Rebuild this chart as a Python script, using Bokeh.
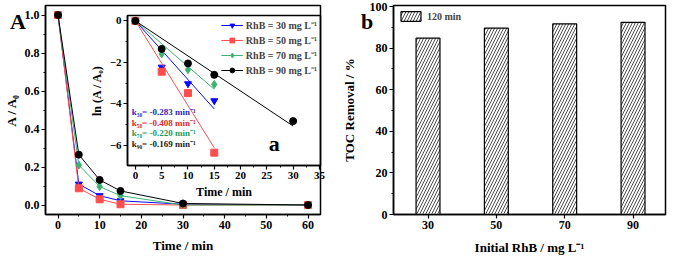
from bokeh.plotting import figure
from bokeh.layouts import row
from bokeh.models import (Range1d, FixedTicker, Label, Legend, LegendItem,
                          ColumnDataSource, PrintfTickFormatter, Div)
from bokeh.embed import file_html
from bokeh.resources import INLINE

# ---------------- data ----------------
time_main = [0, 5, 10, 15, 30, 60]
a30 = [1.0, 0.110, 0.049, 0.022, 0.004, 0.0]
a50 = [1.0, 0.088, 0.030, 0.004, 0.0, 0.0]
a70 = [1.0, 0.210, 0.097, 0.049, 0.0, 0.0]
a90 = [1.0, 0.265, 0.132, 0.074, 0.008, 0.0]

time_ln = [0, 5, 10, 15]
time_ln90 = [0, 5, 10, 15, 30]
ln30 = [0, -2.23, -3.03, -3.85]
ln50 = [0, -2.45, -3.48, -6.35]
ln70 = [0, -1.59, -2.35, -3.06]
ln90 = [0, -1.35, -2.05, -2.60, -4.83]

k_vals = [-0.283, -0.408, -0.220, -0.169]
k_names = ["30", "50", "70", "90"]
fit_end = [15, 15, 15, 30]
series_labels = ["RhB = 30 mg L\u207b\u00b9", "RhB = 50 mg L\u207b\u00b9",
                 "RhB = 70 mg L\u207b\u00b9", "RhB = 90 mg L\u207b\u00b9"]

rhb = [30, 50, 70, 90]
toc = [84.8, 89.6, 91.7, 92.4]

colors = ["#0a0aff", "#ff4d4d", "#3cb371", "#000000"]
text_colors = ["#2a2ab8", "#e02a2a", "#1e9a5a", "#222222"]
markers = ["inverted_triangle", "square", "diamond", "circle"]

FONT = "Liberation Serif"


def style_axes(p, tick_size="12px", label_size="13px"):
    for ax in (p.xaxis[0], p.yaxis[0]):
        ax.major_label_text_font = FONT
        ax.major_label_text_font_style = "bold"
        ax.major_label_text_font_size = tick_size
        ax.major_label_text_color = "black"
        ax.axis_label_text_font = FONT
        ax.axis_label_text_font_style = "bold"
        ax.axis_label_text_font_size = label_size
        ax.axis_label_text_color = "black"
        ax.major_tick_in = 0
        ax.major_tick_out = 4
        ax.minor_tick_in = 0
        ax.minor_tick_out = 2
        ax.axis_line_width = 1.5
        ax.major_tick_line_width = 1.2
        ax.minor_tick_line_width = 1
        ax.major_label_standoff = 2
        ax.axis_label_standoff = 3
    p.xgrid.visible = False
    p.ygrid.visible = False
    p.outline_line_color = "black"
    p.outline_line_width = 1.5
    p.outline_line_alpha = 1.0


# ---------------- panel A ----------------
pA = figure(width=332, height=257, output_backend="svg", toolbar_location=None,
            x_range=Range1d(-3, 63), y_range=Range1d(-0.05, 1.05))
pA.min_border_left = 39
pA.min_border_right = 12
pA.min_border_top = 2
pA.min_border_bottom = 39
style_axes(pA)
pA.xaxis.ticker = FixedTicker(ticks=[0, 10, 20, 30, 40, 50, 60],
                              minor_ticks=[5, 15, 25, 35, 45, 55])
pA.yaxis.ticker = FixedTicker(ticks=[0, 0.2, 0.4, 0.6, 0.8, 1.0],
                              minor_ticks=[0.1, 0.3, 0.5, 0.7, 0.9])
pA.yaxis.formatter = PrintfTickFormatter(format="%.1f")
pA.xaxis.axis_label = "Time / min"
pA.yaxis.axis_label = "A / A\u2080"
pA.xaxis.axis_label_standoff = 6

for ys, c, m in zip([a30, a50, a70, a90], colors, markers):
    pA.line(time_main, ys, line_color=c, line_width=1)
    pA.scatter(time_main, ys, marker=m, size=7 if m != "diamond" else 8,
               fill_color=c, line_color=c)

# ---------------- inset a ----------------
IL, IR, IT, IB = 42, 6, 6, 36
inset = figure(width=IL + 193 + IR, height=IT + 150 + IB, output_backend="svg",
               toolbar_location=None,
               x_range=Range1d(-1.5, 35.2), y_range=Range1d(-6.97, 0.26),
               styles={"position": "absolute", "left": f"{127 - IL}px",
                       "top": f"{14.6 - IT}px"})
inset.min_border_left = IL
inset.min_border_right = IR
inset.min_border_top = IT
inset.min_border_bottom = IB
inset.background_fill_color = None
inset.border_fill_color = None
style_axes(inset, tick_size="11px", label_size="12px")
inset.xaxis.ticker = FixedTicker(ticks=[0, 5, 10, 15, 20, 25, 30, 35],
                                 minor_ticks=[2.5, 7.5, 12.5, 17.5, 22.5, 27.5, 32.5])
inset.yaxis.ticker = FixedTicker(ticks=[0, -2, -4, -6], minor_ticks=[-1, -3, -5])
inset.xaxis.axis_label = "Time / min"
inset.yaxis.axis_label = "ln (A / A\u2080)"

items = []
for xs, ys, k, xe, c, m, lab in zip([time_ln, time_ln, time_ln, time_ln90],
                                    [ln30, ln50, ln70, ln90], k_vals, fit_end,
                                    colors, markers, series_labels):
    src = ColumnDataSource(dict(x=[0, xe], y=[0, k * xe]))
    lr = inset.line("x", "y", source=src, line_color=c, line_width=1)
    sr = inset.scatter(xs, ys, marker=m, size=7 if m != "diamond" else 8,
                       fill_color=c, line_color=c)
    items.append(LegendItem(label=lab, renderers=[lr, sr]))

leg = Legend(items=items, location="top_right")
leg.label_text_font = FONT
leg.label_text_font_style = "bold"
leg.label_text_font_size = "10px"
leg.label_height = 12
leg.glyph_height = 12
leg.glyph_width = 22
leg.spacing = 1
leg.padding = 2
leg.margin = 3
leg.label_standoff = 3
leg.border_line_color = None
leg.background_fill_alpha = 0
inset.add_layout(leg)

k_y = [-4.38, -4.92, -5.42, -5.92]
for name, k, ty, tc in zip(k_names, k_vals, k_y, text_colors):
    sub = "".join(chr(0x2080 + int(d)) for d in name)
    inset.add_layout(Label(x=-0.7, y=ty, text=f"k{sub}= {k:.3f} min\u207b\u00b9",
                           text_font=FONT, text_font_style="bold",
                           text_font_size="9px", text_color=tc,
                           text_baseline="middle"))

inset.add_layout(Label(x=26.4, y=-5.9, text="a", text_font=FONT,
                       text_font_style="bold", text_font_size="22px",
                       text_align="center", text_baseline="middle",
                       text_color="black"))

# ---------------- panel b ----------------
pB = figure(width=337, height=257, output_backend="svg", toolbar_location=None,
            x_range=Range1d(19.9, 99.5), y_range=Range1d(0, 100.5))
pB.min_border_left = 61
pB.min_border_right = 4
pB.min_border_top = 5
pB.min_border_bottom = 41
style_axes(pB)
pB.xaxis.ticker = FixedTicker(ticks=rhb)
pB.yaxis.ticker = FixedTicker(ticks=[0, 20, 40, 60, 80, 100],
                              minor_ticks=[10, 30, 50, 70, 90])
pB.xaxis.axis_label = "Initial RhB / mg L\u207b\u00b9"
pB.yaxis.axis_label = "TOC Removal / %"
pB.xaxis.axis_label_standoff = 8
pB.yaxis.axis_label_standoff = 10

pB.vbar(x=rhb, top=toc, width=7, bottom=0, fill_color="white",
        line_color="black", line_width=1.2, hatch_pattern="/",
        hatch_scale=6, hatch_weight=0.7, hatch_color="black",
        legend_label="120 min")
pB.legend.location = "top_left"
pB.legend.label_text_font = FONT
pB.legend.label_text_font_style = "bold"
pB.legend.label_text_font_size = "10px"
pB.legend.glyph_width = 25
pB.legend.glyph_height = 12
pB.legend.border_line_color = None
pB.legend.background_fill_alpha = 0
pB.legend.margin = 5
pB.legend.padding = 4
pB.legend.label_standoff = 4

panel_css = {"position": "absolute", "font-family": FONT, "font-weight": "bold",
             "font-size": "22px", "line-height": "1", "color": "black"}
divA = Div(text="A", width=18, height=24,
           styles=dict(panel_css, left="5px", top="6px"))
divB = Div(text="b", width=18, height=24,
           styles=dict(panel_css, left="356px", top="6px"))

layout = row(pA, pB)
open("out.html", "w").write(file_html([layout, inset, divA, divB], INLINE))
